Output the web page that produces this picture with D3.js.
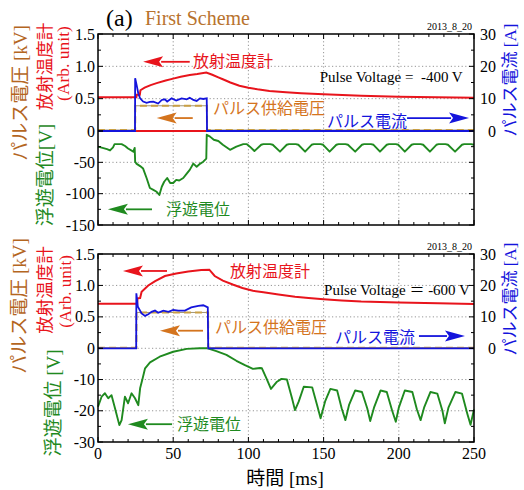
<!DOCTYPE html>
<html><head><meta charset="utf-8">
<script src="https://cdn.jsdelivr.net/npm/d3@7"></script>
<style>body{margin:0;background:#fff}</style>
</head><body>
<svg id="c" width="524" height="490"></svg>
<script>
// ---------------- data ----------------
const timeTicks = [0, 50, 100, 150, 200, 250];
const upperTicks = [0.5, 1.0, 1.5];
const currentTicks = [0, 10, 20, 30];
const lowerTicksP1 = [-50, -100, -150];
const lowerTicksP2 = [-10, -20, -30];

// Panel 1 (-400 V)
const p1Radiometer = [[0,0.52],[25.5,0.52],[25.8,0.56],[27.8,0.56],[28.2,0.63],[31,0.67],[35,0.71],[39,0.74],[45,0.78],[50,0.81],[55,0.84],[61,0.865],[66,0.88],[72,0.905],[76,0.87],[80,0.83],[83,0.80],[88,0.75],[94,0.70],[100,0.67],[106,0.645],[114,0.62],[125,0.60],[135,0.585],[150,0.567],[175,0.545],[200,0.53],[225,0.52],[250,0.515]];
const p1Current = [[0,0],[24.6,0],[24.7,16.3],[25.7,14.2],[26.8,11.6],[28,10.1],[30,9.1],[32.3,8.7],[34.5,9.0],[36.8,9.1],[40,8.5],[42.4,9.6],[44.5,9.8],[46,9.1],[49,10.1],[52,9.4],[55.6,10.1],[59,9.8],[61,10.3],[63.4,9.6],[65.6,9.3],[67.8,10.1],[70,9.9],[72.3,10.1],[72.5,0],[250,0]];
const p1Voltage = [[0,0.015],[24.7,0.015],[24.8,0.39],[72.4,0.39],[72.5,0.015],[250,0.015]];
const p1Floating = [[0,-25],[3,-27],[6,-29],[8,-31],[10,-26],[11,-21],[13,-21],[15.7,-21],[18,-24],[20,-28],[23.5,-33],[24.4,-27],[24.7,-49],[25.5,-52],[28,-56],[30,-60],[32.3,-75],[34.5,-91],[36.8,-94],[39,-97],[40.8,-102],[42.4,-89],[44,-81],[46,-75],[48,-83],[50,-83],[52,-78],[54,-79],[56.7,-75],[59,-68],[61,-62],[63.4,-52],[65.6,-57],[68,-52],[70,-49],[72,-44],[72.3,-6],[74.5,-9],[77,-14],[80,-16],[83,-22],[87.8,-30],[92,-25],[96.6,-21],[99,-21],[101,-25],[104,-32],
  [108.5,-22],[110,-21],[114.5,-21],[116.2,-22],[121,-33],[125.5,-22],[127,-21],[131.5,-21],[133.2,-22],[137.7,-33],[142,-22],[143.5,-21],[148,-21],[149.7,-22],[154,-33],[158.5,-22],[160,-21],[164.5,-21],[166.2,-22],[171,-33],[175.5,-22],[177,-21],[181.5,-21],[183.2,-22],[187.5,-33],[192,-22],[193.5,-21],[198,-21],[199.7,-22],[204,-33],[208.5,-22],[210,-21],[214.5,-21],[216.2,-22],[220.7,-33],[225,-22],[226.5,-21],[231,-21],[232.7,-22],[237.4,-33],[242,-22],[243.5,-21],[248,-21],[250,-22]];

// Panel 2 (-600 V)
const p2Radiometer = [[0,0.71],[26,0.71],[26.3,0.795],[28,0.80],[29,0.90],[33.4,1.0],[38,1.07],[44.5,1.15],[52,1.19],[60,1.22],[68.7,1.245],[74,1.25],[77.6,1.15],[83,1.075],[90,1.01],[96,0.96],[103,0.915],[110,0.89],[120,0.855],[131,0.82],[140,0.80],[150,0.78],[162,0.76],[175,0.745],[200,0.73],[226,0.715],[250,0.705]];
const p2Current = [[0,0],[25.4,0],[25.5,17.5],[26.5,13.2],[29,11.1],[31.3,10.3],[33.4,10.8],[35.6,11.6],[37.9,12.0],[40,11.3],[43.4,12.0],[46.8,11.6],[50,12.2],[53.4,12.0],[57.8,12.0],[62,13.0],[66.7,13.5],[70,13.7],[73,13.0],[73.3,0],[250,0]];
const p2Voltage = [[0,0.01],[25.5,0.01],[25.6,0.57],[73.2,0.57],[73.3,0.01],[250,0.01]];
const p2Floating = [[0,-18.7],[2.4,-15.5],[4.6,-14.4],[6.8,-16],[9,-15],[11.3,-19.2],[14.2,-24.6],[15.7,-23],[17.9,-15.5],[20,-17.6],[22.3,-14.4],[24.6,-16],[26.8,-18.2],[28,-12.8],[29.7,-9.6],[31.3,-6.4],[34.6,-4.5],[41,-2.7],[50,-1.1],[59,-0.2],[67.6,0],[73,0],[78.7,-0.9],[85.4,-2.1],[92,-4],[97.7,-5.4],[103,-6.6],[107.7,-6.3],[109,-6.4],[112,-9.6],[115,-13],[119,-10.7],[122,-9.8],[125.6,-10],[129,-16],[131,-19.8],[133.5,-17],[136.8,-12.3],[142.4,-12.5],[145.7,-18.2],[148,-22.4],[151,-17],[154.5,-13],[159,-13.5],[162,-19.2],[164.5,-23],[167,-18],[171,-13.5],[175.5,-14],[179,-19.2],[181,-23.3],[183.5,-19],[187.9,-13.5],[192,-14],[195.6,-20],[198,-23.5],[200,-19],[204,-13.5],[209,-14],[212,-19.5],[214.5,-23],[216.8,-19],[221,-14],[225.6,-14.5],[229,-20],[230.6,-24],[233,-19],[237.6,-14],[242,-14.5],[245.6,-21],[247.7,-24.5],[250,-19.6]];

// ---------------- drawing ----------------
const C = {red:"#e8141c", blue:"#1414dc", green:"#1f8a1f", dash:"#c9a045",
           orange:"#d4741e", brown:"#b4661f", scheme:"#b8732e"};
const SERIF = "'Liberation Serif','Times New Roman',serif";
const MIX = "'Liberation Serif','Noto Sans CJK JP',serif";
const CJK = "'Noto Sans CJK JP','Noto Sans',sans-serif";

const svg = d3.select("#c");
const L = 98, R = 474;

function arrow(g, x1, x2, y, color, dir) {
  const hl = 20, hw = 5.5;
  if (dir < 0) {
    g.append("line").attr("x1", x1 + hl - 2).attr("x2", x2).attr("y1", y).attr("y2", y)
      .attr("stroke", color).attr("stroke-width", 1.8);
    g.append("path").attr("d", `M${x1},${y}L${x1+hl},${y-hw}L${x1+hl-4},${y}L${x1+hl},${y+hw}Z`).attr("fill", color);
  } else {
    g.append("line").attr("x1", x1).attr("x2", x2 - hl + 2).attr("y1", y).attr("y2", y)
      .attr("stroke", color).attr("stroke-width", 1.8);
    g.append("path").attr("d", `M${x2},${y}L${x2-hl},${y-hw}L${x2-hl+4},${y}L${x2-hl},${y+hw}Z`).attr("fill", color);
  }
}

function vtext(x, y, txt, color, size, family) {
  svg.append("text").attr("transform", `translate(${x},${y}) rotate(-90)`)
    .attr("text-anchor", "middle").attr("dominant-baseline", "central")
    .attr("fill", color).attr("font-size", size).attr("font-family", family).text(txt);
}

function panel(cfg) {
  const x = d3.scaleLinear([0, 250], [L, R]);
  const yU = d3.scaleLinear([0, 1.5], [cfg.zero, cfg.top]);
  const yA = d3.scaleLinear([0, 30], [cfg.zero, cfg.top]);
  const yV = d3.scaleLinear([cfg.vmin, 0], [cfg.bottom, cfg.zero]);
  const g = svg.append("g");

  const grid = g.append("g").attr("stroke", "#8a8a8a").attr("stroke-width", 0.9).attr("stroke-dasharray", "1.2,2.4");
  timeTicks.slice(1, -1).forEach(t => grid.append("line").attr("x1", x(t)).attr("x2", x(t)).attr("y1", cfg.top).attr("y2", cfg.bottom));
  upperTicks.slice(0, -1).concat([0]).forEach(v => grid.append("line").attr("x1", L).attr("x2", R).attr("y1", yU(v)).attr("y2", yU(v)));
  cfg.lowTicks.slice(0, -1).forEach(v => grid.append("line").attr("x1", L).attr("x2", R).attr("y1", yV(v)).attr("y2", yV(v)));

  const line = (ys) => d3.line().x(d => x(d[0])).y(d => ys(d[1]));
  if (cfg.redZero) g.append("line").attr("x1", L).attr("x2", R).attr("y1", yU(0)).attr("y2", yU(0)).attr("stroke", C.red).attr("stroke-width", 2);
  g.append("path").datum(cfg.rad).attr("d", line(yU)).attr("fill", "none").attr("stroke", C.red).attr("stroke-width", 2);
  g.append("path").datum(cfg.flt).attr("d", line(yV)).attr("fill", "none").attr("stroke", C.green).attr("stroke-width", 1.9).attr("stroke-linejoin", "round");
  g.append("path").datum(cfg.volt).attr("d", line(yU)).attr("fill", "none").attr("stroke", "#8a7a50").attr("stroke-width", 0.8);
  g.append("path").datum(cfg.volt).attr("d", line(yU)).attr("fill", "none").attr("stroke", C.dash).attr("stroke-width", 2).attr("stroke-dasharray", "7,4");
  g.append("path").datum(cfg.cur).attr("d", line(yA)).attr("fill", "none").attr("stroke", C.blue).attr("stroke-width", 1.8);

  g.append("rect").attr("x", L).attr("y", cfg.top).attr("width", R - L).attr("height", cfg.bottom - cfg.top)
    .attr("fill", "none").attr("stroke", "#000").attr("stroke-width", 1.5);

  const tk = g.append("g").attr("stroke", "#000").attr("stroke-width", 1);
  d3.range(0, 251, 10).forEach(t => {
    const len = t % 50 === 0 ? 5 : 3;
    tk.append("line").attr("x1", x(t)).attr("x2", x(t)).attr("y1", cfg.bottom).attr("y2", cfg.bottom - len);
    tk.append("line").attr("x1", x(t)).attr("x2", x(t)).attr("y1", cfg.top).attr("y2", cfg.top + len);
  });
  d3.range(0, 1.51, 0.25).forEach((v, i) => {
    const len = i % 2 === 0 ? 5 : 3;
    tk.append("line").attr("x1", L).attr("x2", L + len).attr("y1", yU(v)).attr("y2", yU(v));
    tk.append("line").attr("x1", R).attr("x2", R - len).attr("y1", yU(v)).attr("y2", yU(v));
  });
  d3.range(0, 7).forEach(i => {
    const v = cfg.vmin * i / 6, len = i % 2 === 0 ? 5 : 3;
    tk.append("line").attr("x1", L).attr("x2", L + len).attr("y1", yV(v)).attr("y2", yV(v));
    tk.append("line").attr("x1", R).attr("x2", R - len).attr("y1", yV(v)).attr("y2", yV(v));
  });

  const lab = g.append("g").attr("font-family", SERIF).attr("font-size", 16).attr("fill", "#000").attr("text-anchor", "end");
  upperTicks.forEach(v => lab.append("text").attr("x", 95).attr("y", yU(v)).attr("dy", "0.35em").text(d3.format(".1f")(v)));
  lab.append("text").attr("x", 95).attr("y", yU(0)).attr("dy", "0.35em").text("0");
  cfg.lowTicks.forEach(v => lab.append("text").attr("x", 95).attr("y", yV(v)).attr("dy", "0.35em").text(v));
  currentTicks.forEach(v => lab.append("text").attr("x", 496).attr("y", yA(v)).attr("dy", "0.35em").text(v));

  if (cfg.xlabels) {
    timeTicks.forEach(t => g.append("text").attr("x", x(t)).attr("y", cfg.bottom + 16.5)
      .attr("text-anchor", "middle").attr("font-family", SERIF).attr("font-size", 16).text(t));
  }

  g.append("text").attr("x", 472).attr("y", cfg.top - 4).attr("text-anchor", "end")
    .attr("font-family", SERIF).attr("font-size", 10).text("2013_8_20");

  const a = cfg.ann;
  arrow(g, x(a.red[0]), x(a.red[1]), yU(a.red[2]), C.red, -1);
  g.append("text").attr("x", x(a.redText[0])).attr("y", yU(a.redText[1])).attr("dy", "0.35em")
    .attr("fill", C.red).attr("font-family", CJK).attr("font-size", 16).text("放射温度計");
  g.append("text").attr("x", x(a.pulse[0])).attr("y", yU(a.pulse[1])).attr("dy", "0.35em").attr("text-anchor", "end")
    .attr("font-family", MIX).attr("font-size", 15).attr("xml:space", "preserve").text(a.pulseText);
  arrow(g, x(a.org[0]), x(a.org[1]), yU(a.org[2]), C.orange, -1);
  g.append("text").attr("x", x(a.orgText[0])).attr("y", yU(a.orgText[1])).attr("dy", "0.35em")
    .attr("fill", C.orange).attr("font-family", CJK).attr("font-size", 16).text("パルス供給電圧");
  g.append("text").attr("x", x(a.blueText[0])).attr("y", yU(a.blueText[1])).attr("dy", "0.35em")
    .attr("fill", C.blue).attr("font-family", CJK).attr("font-size", 16).text("パルス電流");
  arrow(g, x(a.blue[0]), x(a.blue[1]), yU(a.blue[2]), C.blue, 1);
  arrow(g, x(a.grn[0]), x(a.grn[1]), yV(a.grn[2]), C.green, -1);
  g.append("text").attr("x", x(a.grnText[0])).attr("y", yV(a.grn[2])).attr("dy", "0.35em")
    .attr("fill", C.green).attr("font-family", CJK).attr("font-size", 16).text("浮遊電位");
}

panel({top: 34, zero: 131, bottom: 225, vmin: -150, lowTicks: lowerTicksP1, redZero: true, xlabels: false,
  rad: p1Radiometer, cur: p1Current, volt: p1Voltage, flt: p1Floating,
  ann: {red: [30, 61, 1.07], redText: [63.2, 1.08], pulse: [242.5, 0.835], pulseText: "Pulse Voltage =  -400 V",
        org: [39, 63, 0.2], orgText: [76.5, 0.355], blueText: [152.3, 0.155], blue: [205.5, 246.7, 0.2],
        grn: [6.6, 35.9, -125], grnText: [45.2]}});
panel({top: 254, zero: 348.3, bottom: 442, vmin: -30, lowTicks: lowerTicksP2, redZero: false, xlabels: true,
  rad: p2Radiometer, cur: p2Current, volt: p2Voltage, flt: p2Floating,
  ann: {red: [16.6, 45.9, 1.23], redText: [87.8, 1.23], pulse: [247.3, 0.93], pulseText: "Pulse Voltage ＝ -600 V",
        org: [41.2, 69.8, 0.28], orgText: [77.8, 0.34], blueText: [157.6, 0.18], blue: [213.4, 244, 0.195],
        grn: [19.9, 49.2, -24.3], grnText: [52.5]}});

svg.append("text").attr("x", 106).attr("y", 26).attr("font-family", SERIF).attr("font-size", 24).text("(a)");
svg.append("text").attr("x", 145).attr("y", 25).attr("font-family", SERIF).attr("font-size", 20).attr("fill", C.scheme).text("First Scheme");

vtext(20, 93, "パルス電圧 [kV]", C.brown, 19, MIX);
vtext(45, 66.5, "放射温度計", C.red, 17.5, MIX);
vtext(63, 63.5, "(Arb. unit)", C.red, 17.5, SERIF);
vtext(45, 175, "浮遊電位[V]", C.green, 19, MIX);
vtext(510, 80, "パルス電流 [A]", C.blue, 17, MIX);
vtext(19, 306, "パルス電圧 [kV]", C.brown, 19, MIX);
vtext(45, 290, "放射温度計", C.red, 17.5, MIX);
vtext(65, 291.5, "(Arb. unit)", C.red, 17, SERIF);
vtext(53, 403, "浮遊電位 [V]", C.green, 19, MIX);
vtext(510, 299, "パルス電流 [A]", C.blue, 17, MIX);

const xt = svg.append("text").attr("x", 285).attr("y", 484.5).attr("text-anchor", "middle").attr("font-size", 19).attr("font-family", MIX);
xt.append("tspan").attr("font-family", CJK).text("時間");
xt.append("tspan").attr("font-family", SERIF).text(" [ms]");
</script>
</body></html>
